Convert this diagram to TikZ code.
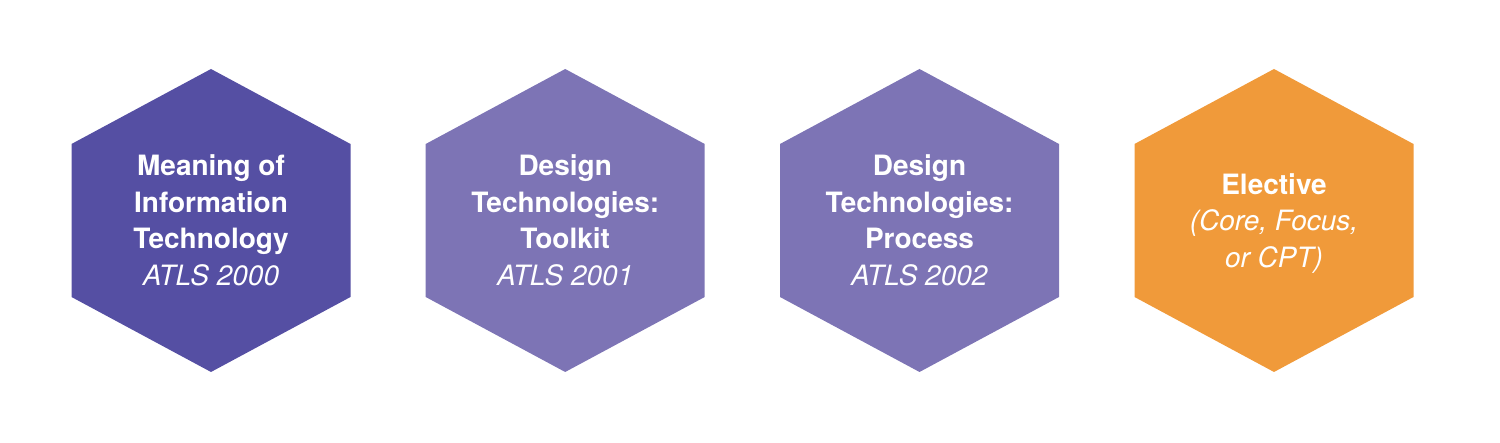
\documentclass[tikz,border=0pt]{standalone}
\usepackage{fontspec}
\setmainfont{TeX Gyre Heros}
\definecolor{corepurple}{RGB}{85,79,163}
\definecolor{designpurple}{RGB}{125,116,181}
\definecolor{electorange}{RGB}{240,154,58}
\begin{document}
\begin{tikzpicture}[x=1pt,y=1pt,
    course/.style={align=center,text=white,inner sep=0pt,
      font=\fontsize{28}{36.5}\selectfont}]
        \useasboundingbox (0,0) rectangle (1500,443);

          % hexagons
          \foreach \x/\col in {211/corepurple,565.2/designpurple,919.5/designpurple,1274/electorange}
            \fill[\col] (\x,222.5) ++(0,151.5) -- ++(139.5,-75) -- ++(0,-153)
              -- ++(-139.5,-75) -- ++(-139.5,75) -- ++(0,153) -- cycle;

          \node (c1) at (211,222.5) [course]{\textbf{Meaning of}\\\textbf{Information}\\\textbf{Technology}\\\textit{ATLS 2000}};
          \node (c2) at (565.2,222.5) [course]{\textbf{Design}\\\textbf{Technologies:}\\\textbf{Toolkit}\\\textit{ATLS 2001}};
          \node (c3) at (919.5,222.5) [course]{\textbf{Design}\\\textbf{Technologies:}\\\textbf{Process}\\\textit{ATLS 2002}};
          \node (c4) at (1274,219.5) [course]{\textbf{Elective}\\\textit{(Core, Focus,}\\\textit{or CPT)}};

        \end{tikzpicture}
\end{document}
